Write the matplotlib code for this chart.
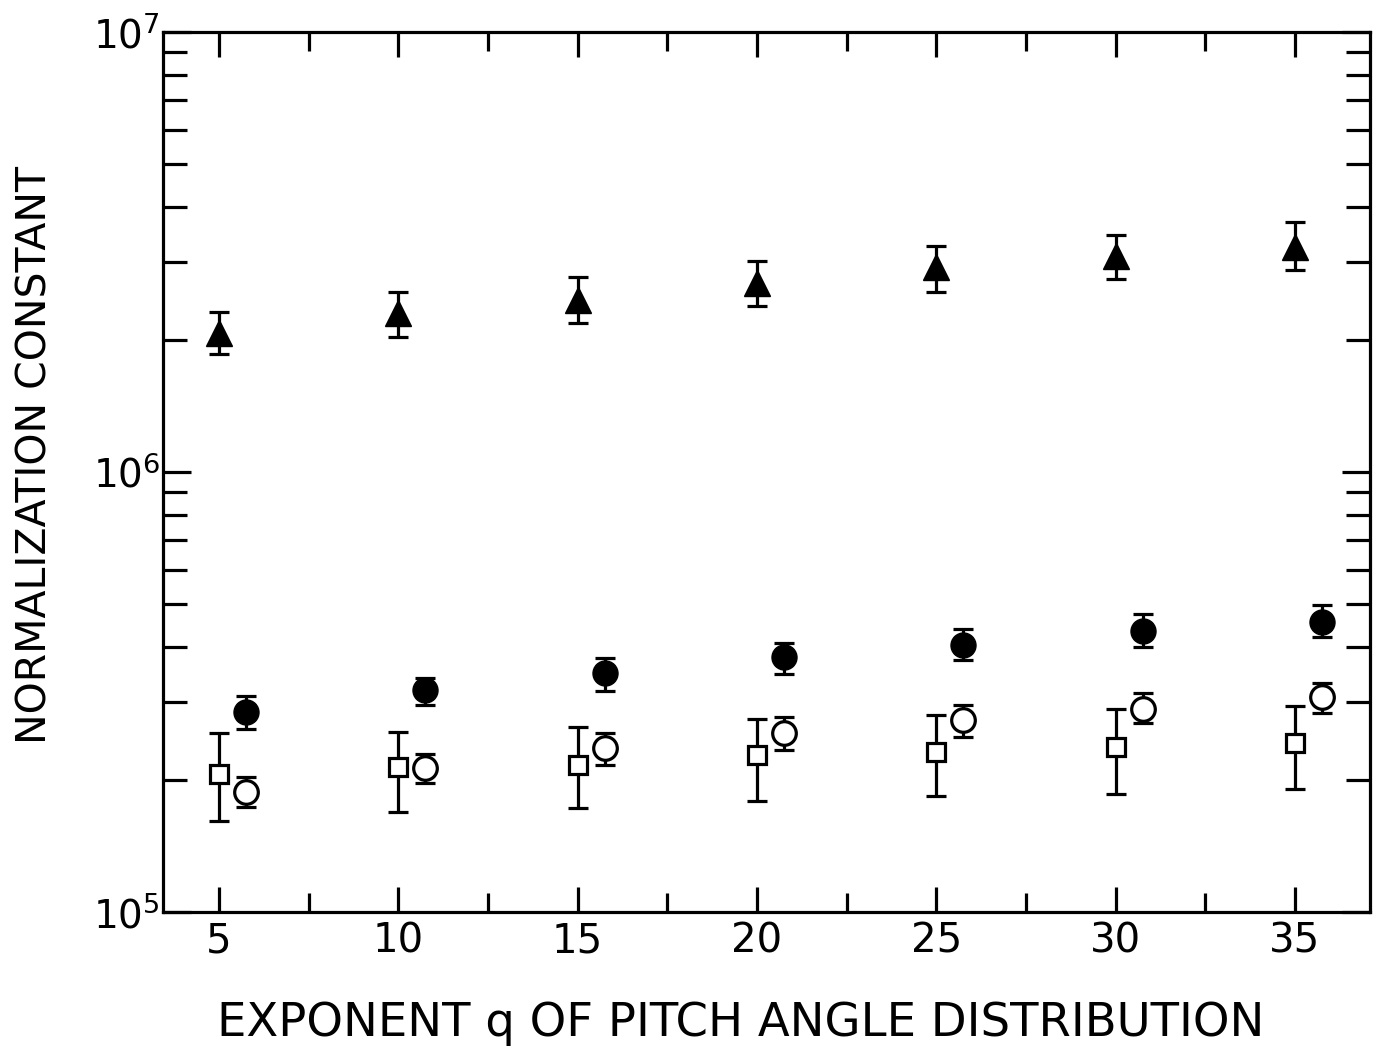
import numpy as np
import matplotlib
matplotlib.use("Agg")
import matplotlib.pyplot as plt
from matplotlib.ticker import FixedLocator, LogLocator, NullFormatter

plt.rcParams['font.family'] = ['DejaVu Sans']
plt.rcParams['mathtext.fontset'] = 'dejavusans'

# exposant q (abscisses)
q = np.array([5, 10, 15, 20, 25, 30, 35])
q_shift = 0.75  # décalage des cercles à droite

# triangles pleins
tri = np.array([2.07e6, 2.30e6, 2.46e6, 2.69e6, 2.93e6, 3.10e6, 3.25e6])
tri_hi = np.array([2.31e6, 2.56e6, 2.77e6, 3.02e6, 3.27e6, 3.46e6, 3.70e6])
tri_lo = np.array([1.85e6, 2.03e6, 2.18e6, 2.38e6, 2.56e6, 2.75e6, 2.88e6])

# cercles pleins
fc = np.array([2.85e5, 3.20e5, 3.49e5, 3.80e5, 4.05e5, 4.36e5, 4.56e5])
fc_hi = np.array([3.10e5, 3.41e5, 3.78e5, 4.09e5, 4.39e5, 4.75e5, 4.99e5])
fc_lo = np.array([2.61e5, 2.95e5, 3.18e5, 3.47e5, 3.74e5, 4.00e5, 4.22e5])

# cercles vides
oc = np.array([1.87e5, 2.12e5, 2.36e5, 2.55e5, 2.73e5, 2.89e5, 3.08e5])
oc_hi = np.array([2.03e5, 2.29e5, 2.55e5, 2.78e5, 2.95e5, 3.15e5, 3.31e5])
oc_lo = np.array([1.73e5, 1.96e5, 2.16e5, 2.33e5, 2.50e5, 2.69e5, 2.83e5])

# carrés vides
sq = np.array([2.06e5, 2.14e5, 2.16e5, 2.27e5, 2.31e5, 2.37e5, 2.42e5])
sq_hi = np.array([2.55e5, 2.56e5, 2.63e5, 2.75e5, 2.81e5, 2.89e5, 2.94e5])
sq_lo = np.array([1.61e5, 1.69e5, 1.72e5, 1.79e5, 1.84e5, 1.85e5, 1.90e5])

x_ticks = [5, 10, 15, 20, 25, 30, 35]
x_minor = [7.5, 12.5, 17.5, 22.5, 27.5, 32.5]

fig = plt.figure(figsize=(13.88, 10.55), dpi=100)
ax = fig.add_axes([0.1174, 0.1355, 0.8696, 0.8342])

lw = 2.3
cap = 7

def errplot(x, y, lo, hi, **kw):
    ax.errorbar(x, y, yerr=[y - lo, hi - y], fmt='none', ecolor='black',
                elinewidth=lw, capsize=cap, capthick=lw, zorder=2)
    ax.plot(x, y, linestyle='none', zorder=3, **kw)

errplot(q, tri, tri_lo, tri_hi, marker='^', ms=19, color='black')
errplot(q + q_shift, fc, fc_lo, fc_hi, marker='o', ms=18, color='black')
errplot(q + q_shift, oc, oc_lo, oc_hi, marker='o', ms=17, mfc='white',
        mec='black', mew=2.3)
errplot(q, sq, sq_lo, sq_hi, marker='s', ms=13, mfc='white',
        mec='black', mew=2.3)

ax.set_yscale('log')
ax.set_ylim(1e5, 1e7)
ax.set_xlim(3.44, 37.09)

ax.xaxis.set_major_locator(FixedLocator(x_ticks))
ax.xaxis.set_minor_locator(FixedLocator(x_minor))
ax.set_xticklabels([str(t) for t in x_ticks])
ax.yaxis.set_major_locator(FixedLocator([1e5, 1e6, 1e7]))
ax.yaxis.set_minor_locator(LogLocator(base=10, subs=np.arange(2, 10)))
ax.yaxis.set_minor_formatter(NullFormatter())
ax.set_yticklabels([r'$10^5$', r'$10^6$', r'$10^7$'])

ax.tick_params(which='both', direction='in', top=True, right=True,
               width=lw, colors='black')
ax.tick_params(which='major', length=18)
ax.tick_params(which='minor', length=14)
ax.tick_params(axis='y', which='minor', length=17)
ax.tick_params(axis='x', which='major', labelsize=29, pad=7)
ax.tick_params(axis='y', which='major', labelsize=28, pad=2, length=20)

for s in ax.spines.values():
    s.set_linewidth(lw)

ax.set_xlabel('EXPONENT q OF PITCH ANGLE DISTRIBUTION', fontsize=33.5)
ax.set_ylabel('NORMALIZATION CONSTANT', fontsize=29.5)
ax.xaxis.set_label_coords(0.479, -0.101)
ax.yaxis.set_label_coords(-0.089, 0.519)

fig.savefig('out.png', dpi=100)
